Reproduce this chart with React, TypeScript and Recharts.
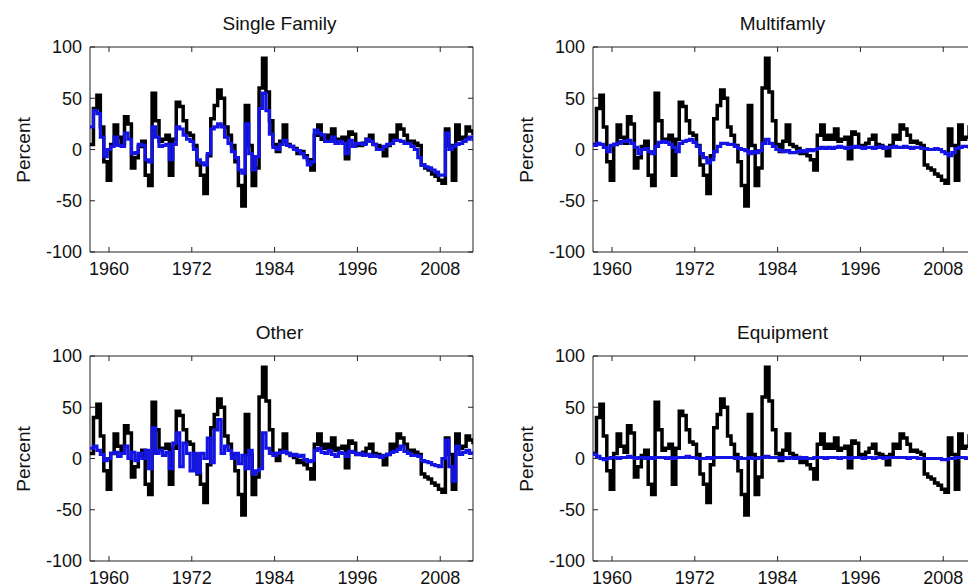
import React from 'react';
import { LineChart, Line, XAxis, YAxis, ReferenceArea } from 'recharts';

// half-year observations, 1957.25 .. 2012.75
const years: number[] = Array.from({ length: 112 }, (_, i) => 1957.25 + i * 0.5);

const total = [
  5, 40, 53, 22, -12, -30, 5, 24, 12, 6, 32, 25, -18, -8, 3, 8, -25, -35, 55, 28,
  8, 10, 14, -25, 10, 46, 42, 28, 16, 14, 4, -15, -25, -43, -6, 30, 43, 58, 50, 22,
  14, 4, -12, -35, -55, 43, 4, -35, -18, 60, 89, 56, 28, 5, -2, 8, 24, 5, 3, 1,
  -4, -2, -6, -10, -20, 14, 24, 10, 14, 10, 20, 8, 10, 12, -9, 17, 15, 4, 4, 6,
  10, 14, 5, 4, 2, -6, 4, 14, 10, 24, 20, 14, 7, 8, 6, 4, -15, -18, -20, -24,
  -26, -30, -33, 20, 4, -30, 24, 10, 12, 22, 18, 14,
];

const singleFamily = [
  22, 38, 35, 12, -7, 0, 3, 12, 4, 3, 16, 10, -4, -3, 5, 4, -10, -12, 22, 12,
  3, 4, 5, -10, 5, 22, 20, 14, 10, 8, 0, -10, -13, -15, -4, 20, 22, 25, 22, 12,
  6, -2, -8, -20, -23, 25, -4, -20, -7, 40, 55, 38, 15, 2, 0, 5, 9, 4, 3, 0,
  -1, -4, -8, -15, -12, 19, 16, 14, 8, 8, 12, 6, 8, 6, -4, 9, 3, 6, 6, 5,
  10, 8, 5, 0, 0, 3, 5, 6, 9, 9, 8, 6, 6, 3, 0, -8, -15, -17, -18, -20,
  -22, -25, -25, 16, 0, 3, 5, 6, 8, 10, 12, 8,
];

const multifamily = [
  4, 6, 5, 2, -2, 4, 5, 6, 8, 8, 9, 6, 2, -4, 0, 1, -2, -4, 3, 7,
  8, 7, 5, 2, -2, 6, 8, 9, 10, 7, 3, -4, -8, -13, -10, -2, 3, 6, 6, 5,
  5, 3, 1, 0, -1, -4, -2, -3, -1, 6, 10, 6, 3, 0, -1, -2, -1, -3, -3, -2,
  -1, -2, 0, -1, 0, 1, 2, 1, 2, 1, 2, 3, 2, 1, 2, 2, 3, 2, 1, 2,
  2, 1, 2, 3, 1, 2, 2, 3, 2, 2, 3, 2, 1, 2, 2, 1, 1, 0, 0, 1,
  0, -2, -4, -6, -3, 1, 2, 3, 3, 2, 3, 3,
];

const other = [
  10, 12, 8, 4, -2, 0, 5, 6, 2, 5, 12, 0, 6, -2, 5, 0, 8, -10, 30, 5,
  8, 3, 6, -10, 15, 25, -8, 15, 5, -12, 5, -14, 5, 0, 20, -4, 28, 38, 5, 12,
  8, 0, 5, -5, 3, -10, 8, -15, -12, -10, 25, 10, 5, 3, 5, 6, 7, 5, 3, 4,
  2, 3, -1, -3, -2, 8, 10, 6, 5, 8, 4, 2, 6, 5, 2, 7, 6, 4, 5, 3,
  4, 2, 3, 2, 1, 3, 4, 6, 7, 9, 12, 7, 5, 3, 3, 2, -2, -3, -4, -6,
  -7, -8, 0, 18, -8, -22, 12, 4, 6, 8, 5, 7,
];

const equipment = [
  4, 2, 0, -1, 0, 1, 1, 0, 1, 1, 2, 1, 0, 1, 1, 0, 1, 0, 1, 1,
  1, 0, 1, 0, 1, 1, 1, 2, 1, 1, 0, 0, 0, 1, 0, 1, 1, 1, 1, 1,
  1, 0, 1, 0, 0, 1, 0, 0, 1, 1, 2, 1, 1, 1, 0, 1, 0, 1, 0, 1,
  0, 1, 0, 0, 1, 1, 1, 0, 1, 1, 1, 0, 1, 1, 0, 1, 1, 1, 0, 1,
  1, 0, 1, 1, 0, 1, 1, 1, 1, 1, 1, 0, 1, 1, 0, 0, 0, 0, 0, 0,
  0, -1, -1, 0, 0, 1, 1, 1, 0, 1, 1, 1,
];

const yearTicks = [1960, 1972, 1984, 1996, 2008];
const pctTicks = [-100, -50, 0, 50, 100];

const rows = years.map((year, i) => ({
  year,
  total: total[i],
  singleFamily: singleFamily[i],
  multifamily: multifamily[i],
  other: other[i],
  equipment: equipment[i],
}));

const FONT = '"Liberation Sans", Arial, Helvetica, sans-serif';
const INK = '#222';
const BLUE = '#1414e6';
const PLOT_W = 383;
const PLOT_H = 205;
const X_GAP = 10;
const Y_GAP = 8;
const TICK = 5;

const XTick = (props: any) => {
  const { x, y, payload } = props;
  const base = y - X_GAP;
  return (
    <g>
      <line x1={x} x2={x} y1={base} y2={base - TICK} stroke={INK} />
      <line x1={x} x2={x} y1={base - PLOT_H} y2={base - PLOT_H + TICK} stroke={INK} />
      <text x={x} y={y} dy="0.71em" textAnchor="middle" fill="#111" fontSize={18} fontFamily={FONT}>
        {payload.value}
      </text>
    </g>
  );
};

const YTick = (props: any) => {
  const { x, y, payload } = props;
  const base = x + Y_GAP;
  return (
    <g>
      <line x1={base} x2={base + TICK} y1={y} y2={y} stroke={INK} />
      <line x1={base + PLOT_W} x2={base + PLOT_W - TICK} y1={y} y2={y} stroke={INK} />
      <text x={x} y={y} dy="0.355em" textAnchor="end" fill="#111" fontSize={18} fontFamily={FONT}>
        {payload.value}
      </text>
    </g>
  );
};

interface PanelProps {
  title: string;
  dataKey: string;
  left: number;
  top: number;
  width: number;
  height: number;
  plotLeft: number;
  plotTop: number;
}

const Panel: React.FC<PanelProps> = ({ title, dataKey, left, top, width, height, plotLeft, plotTop }) => {
  const xAxisHeight = height - plotTop - PLOT_H;
  const rightGap = width - plotLeft - PLOT_W;
  return (
    <div style={{ position: 'absolute', left, top, width, height }}>
      <LineChart width={width} height={height} data={rows} margin={{ top: plotTop, right: rightGap, left: 0, bottom: 0 }}>
        <XAxis
          dataKey="year"
          type="number"
          domain={[1957.25, 2012.75]}
          ticks={yearTicks}
          interval={0}
          height={xAxisHeight}
          tickSize={0}
          tickMargin={X_GAP}
          axisLine={false}
          tickLine={false}
          tick={<XTick />}
          allowDataOverflow
        />
        <YAxis
          type="number"
          domain={[-100, 100]}
          ticks={pctTicks}
          interval={0}
          width={plotLeft}
          tickSize={0}
          tickMargin={Y_GAP}
          axisLine={false}
          tickLine={false}
          tick={<YTick />}
          allowDataOverflow
        />
        <ReferenceArea x1={1957.25} x2={2012.75} y1={-100} y2={100} fill="none" stroke={INK} strokeOpacity={1} />
        <Line dataKey="total" type="stepAfter" stroke="#000" strokeWidth={3.5} strokeLinejoin="miter" dot={false} isAnimationActive={false} />
        <Line dataKey={dataKey} type="stepAfter" stroke={BLUE} strokeWidth={3.2} strokeLinejoin="miter" dot={false} isAnimationActive={false} />
      </LineChart>
      <div
        style={{
          position: 'absolute',
          left: plotLeft + PLOT_W / 2 - 152,
          top: plotTop - 33,
          width: 300,
          textAlign: 'center',
          fontFamily: FONT,
          fontSize: 19,
          lineHeight: '20px',
          color: '#111',
        }}
      >
        {title}
      </div>
      <div
        style={{
          position: 'absolute',
          left: plotLeft - 66,
          top: plotTop + PLOT_H / 2,
          transform: 'translate(-50%, -50%) rotate(-90deg)',
          fontFamily: FONT,
          fontSize: 19,
          lineHeight: '20px',
          color: '#111',
          whiteSpace: 'nowrap',
        }}
      >
        Percent
      </div>
    </div>
  );
};

export default function App() {
  return (
    <div style={{ position: 'absolute', left: 0, top: 0, width: 968, height: 587, overflow: 'hidden', background: '#fff' }}>
      <Panel title="Single Family" dataKey="singleFamily" left={0} top={0} width={484} height={293} plotLeft={90} plotTop={47} />
      <Panel title="Multifamly" dataKey="multifamily" left={484} top={0} width={500} height={293} plotLeft={109} plotTop={47} />
      <Panel title="Other" dataKey="other" left={0} top={293} width={484} height={294} plotLeft={90} plotTop={63} />
      <Panel title="Equipment" dataKey="equipment" left={484} top={293} width={500} height={294} plotLeft={109} plotTop={63} />
    </div>
  );
}
